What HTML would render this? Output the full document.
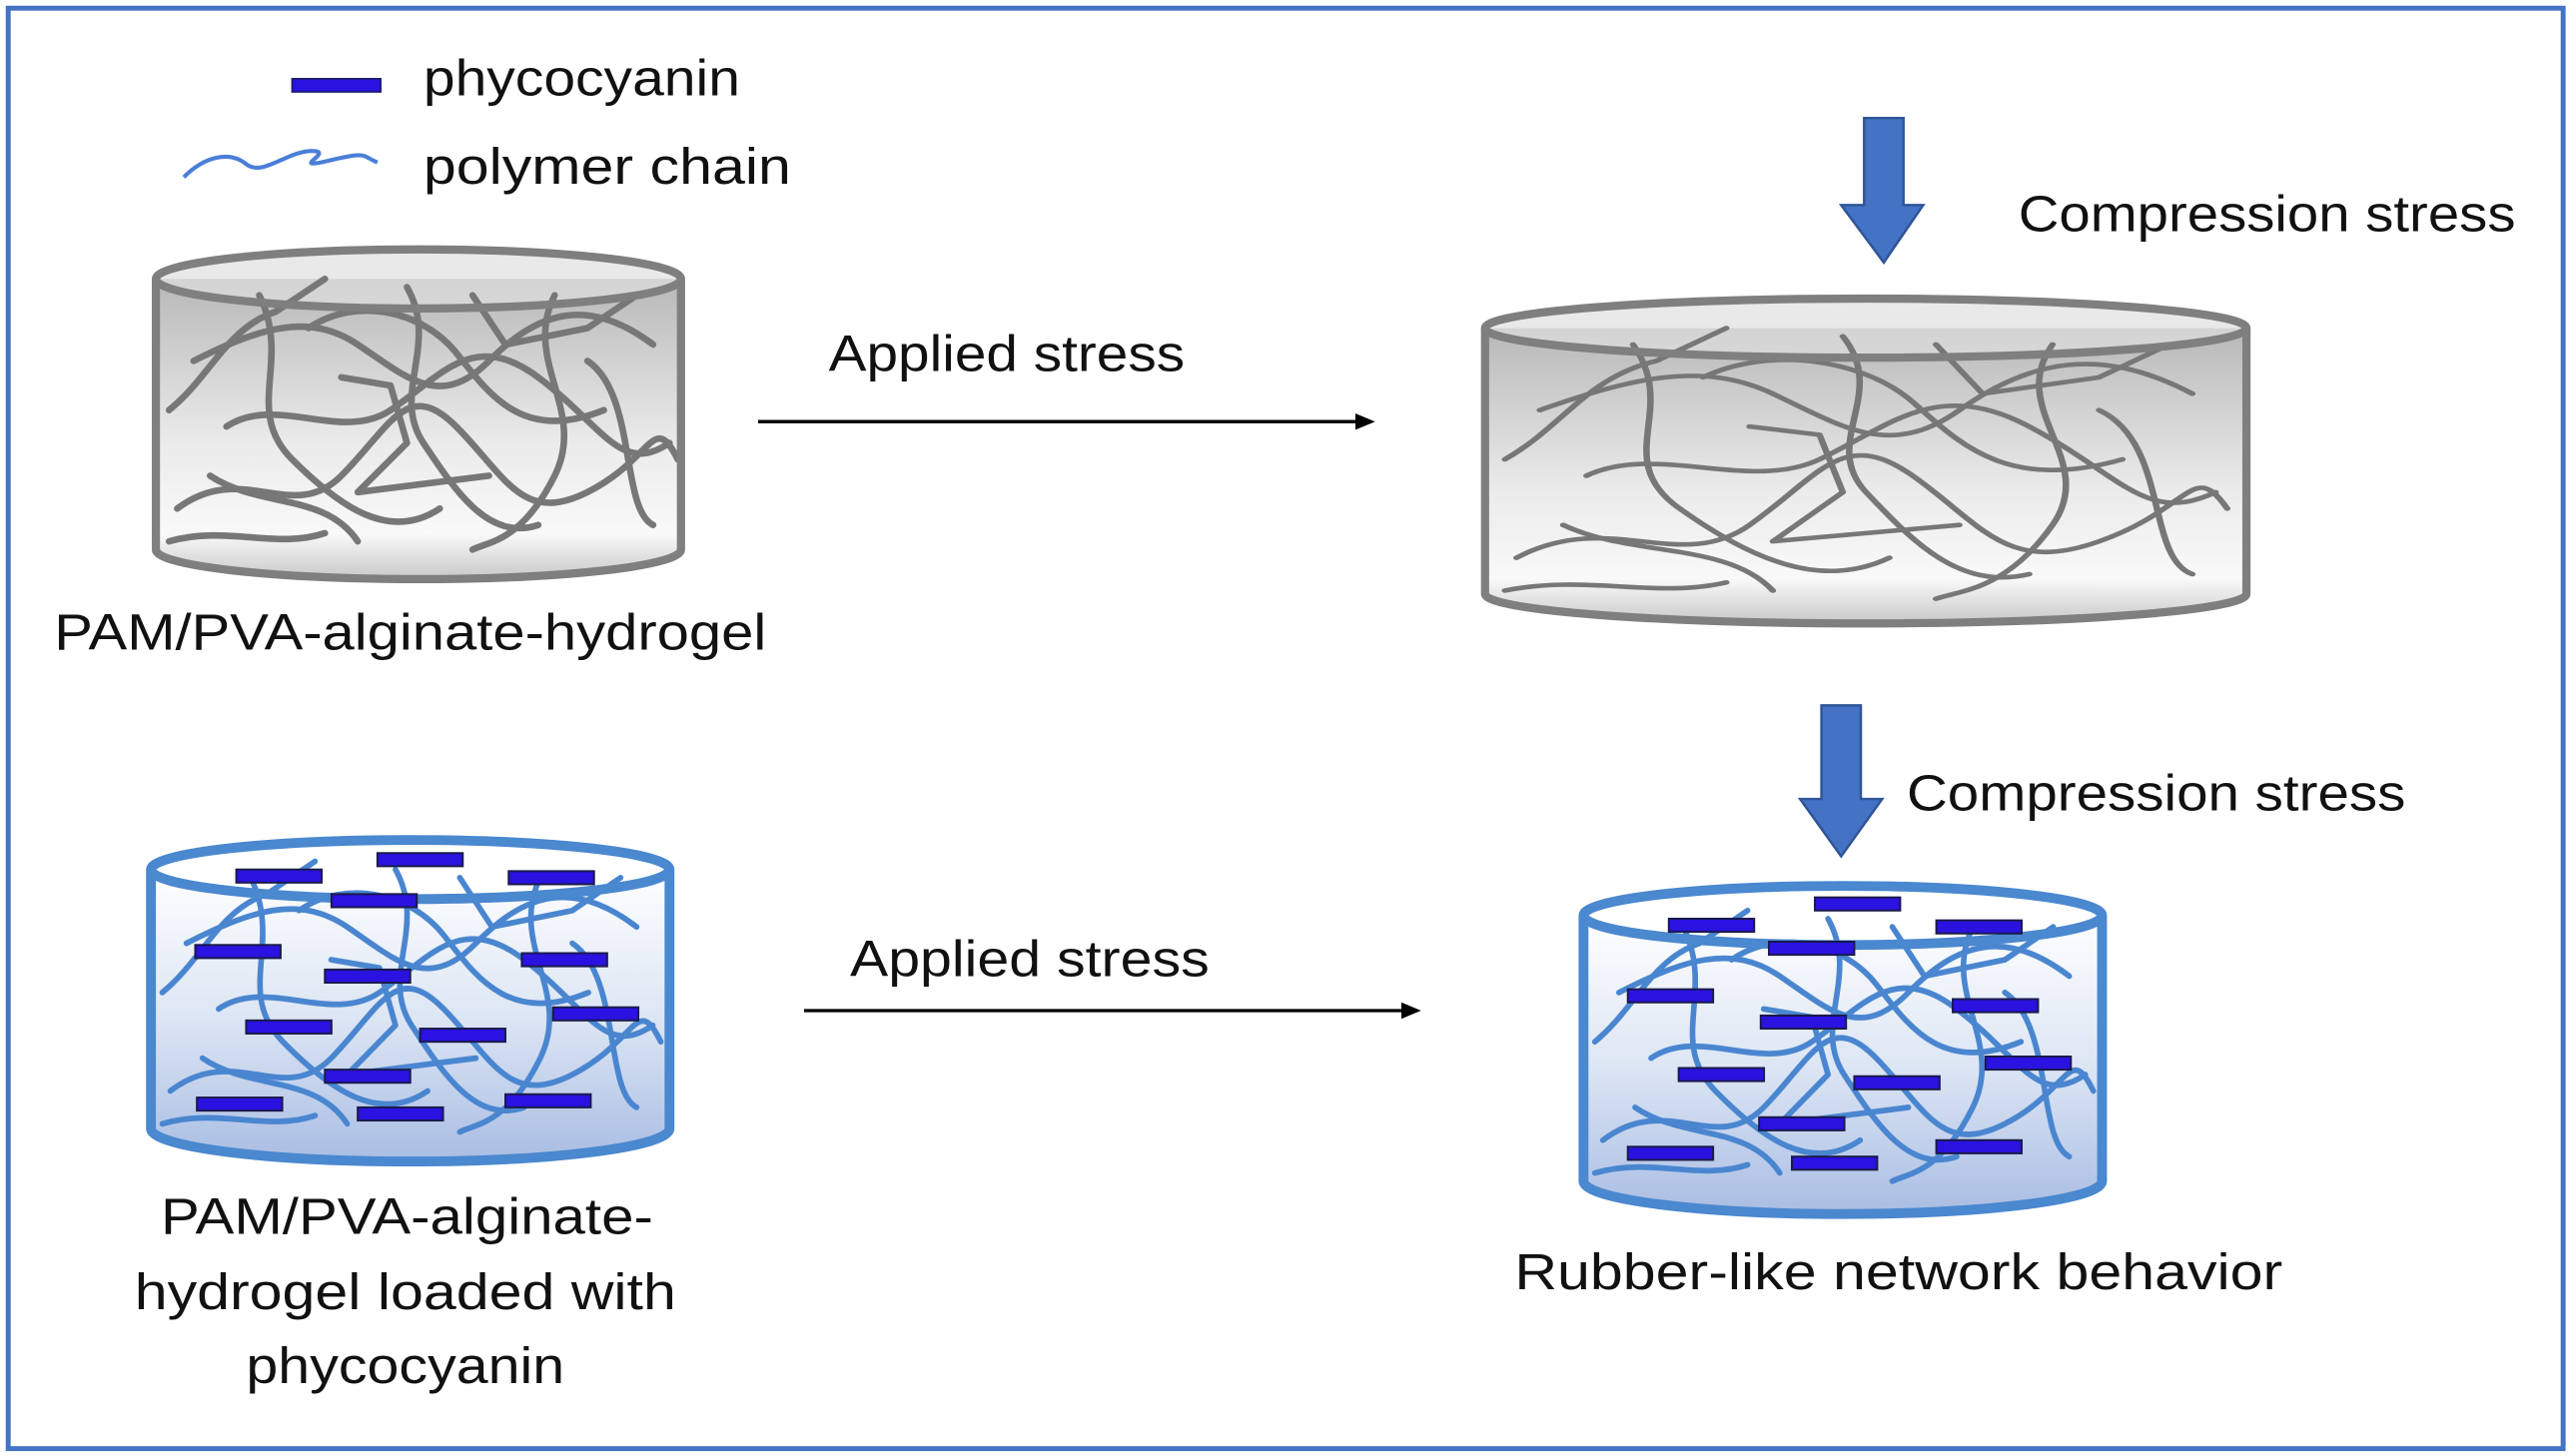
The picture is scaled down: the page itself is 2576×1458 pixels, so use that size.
<!DOCTYPE html>
<html><head><meta charset="utf-8">
<style>
html,body{margin:0;padding:0;background:#fff;}
svg{display:block;}
text{font-family:"Liberation Sans",sans-serif;fill:#111;}
</style></head>
<body>
<svg width="2576" height="1458" viewBox="0 0 1568 887.5" preserveAspectRatio="none" xmlns="http://www.w3.org/2000/svg">
<defs>
<linearGradient id="gg" x1="0" y1="0" x2="0" y2="1">
<stop offset="0" stop-color="#b8b8b8"/><stop offset="0.55" stop-color="#ebebeb"/><stop offset="0.85" stop-color="#f9f9f9"/><stop offset="1" stop-color="#c8c8c8"/>
</linearGradient>
<linearGradient id="bg" x1="0" y1="0" x2="0" y2="1">
<stop offset="0" stop-color="#ffffff"/><stop offset="0.5" stop-color="#dde6f4"/><stop offset="1" stop-color="#a9bde3"/>
</linearGradient>
<g id="chains" fill="none" stroke-linecap="round" stroke-linejoin="round">
<path d="M20,60 C60,40 90,30 120,50 S170,90 200,60 S260,20 300,50"/>
<path d="M40,100 C70,80 110,110 140,90 S190,40 230,70 S280,130 310,110"/>
<path d="M10,150 C50,120 80,160 110,130 S150,70 180,100 S220,160 260,140 S300,90 315,120"/>
<path d="M60,20 C80,60 50,90 80,120 S140,170 170,150"/>
<path d="M150,15 C170,50 140,80 160,110 S200,170 230,160"/>
<path d="M240,20 C220,60 260,90 240,130 S200,170 190,175"/>
<path d="M90,40 C120,20 160,30 180,55 S220,110 270,90"/>
<path d="M30,130 C60,150 100,140 120,170"/>
<path d="M110,70 L140,75 L150,110 L120,140 L200,130"/>
<path d="M260,60 C290,80 280,150 300,160"/>
<path d="M5,90 C30,70 40,40 70,30 L100,10"/>
<path d="M190,20 L210,50 L260,40 L290,20"/>
<path d="M5,170 C40,160 70,175 100,165"/>
</g>
</defs>

<rect x="5" y="5" width="1557" height="878" fill="none" stroke="#4472c4" stroke-width="3"/>

<!-- legend -->
<rect x="178" y="48" width="54" height="8" fill="#2a12e0" stroke="#1a1a66" stroke-width="1"/>
<text x="258" y="58" font-size="31" textLength="193" lengthAdjust="spacingAndGlyphs">phycocyanin</text>
<path d="M112,108 C125,95 140,92 150,100 S175,92 190,92 S175,104 200,98 S220,95 230,99" fill="none" stroke="#4a7fd8" stroke-width="2.5"/>
<text x="258" y="112" font-size="31" textLength="224" lengthAdjust="spacingAndGlyphs">polymer chain</text>

<!-- cylinder 1 gray -->
<path d="M95,170 L95,335 A160,18 0 0 0 415,335 L415,170 Z" fill="url(#gg)"/>
<ellipse cx="255" cy="170" rx="160" ry="18" fill="#e0e0e0" opacity="0.7"/>
<g stroke="#777" stroke-width="4" transform="translate(98,160)"><use href="#chains"/></g>
<path d="M95,170 L95,335 A160,18 0 0 0 415,335 L415,170" fill="none" stroke="#7f7f7f" stroke-width="5"/>
<ellipse cx="255" cy="170" rx="160" ry="18" fill="none" stroke="#7f7f7f" stroke-width="5"/>
<text x="33" y="396" font-size="31" textLength="434" lengthAdjust="spacingAndGlyphs">PAM/PVA-alginate-hydrogel</text>

<!-- arrow 1 -->
<line x1="462" y1="257" x2="828" y2="257" stroke="#000" stroke-width="2"/>
<path d="M838,257 L826,252 L826,262 Z" fill="#000"/>
<text x="505" y="226" font-size="31" textLength="217" lengthAdjust="spacingAndGlyphs">Applied stress</text>

<!-- cylinder 2 -->
<path d="M905,200 L905,362 A232,18 0 0 0 1369,362 L1369,200 Z" fill="url(#gg)"/>
<ellipse cx="1137" cy="200" rx="232" ry="18" fill="#e0e0e0" opacity="0.7"/>
<g stroke="#777" stroke-width="4" transform="translate(910,190) scale(1.42,1.0)"><use href="#chains" stroke-width="2.8"/></g>
<path d="M905,200 L905,362 A232,18 0 0 0 1369,362 L1369,200" fill="none" stroke="#7f7f7f" stroke-width="5"/>
<ellipse cx="1137" cy="200" rx="232" ry="18" fill="none" stroke="#7f7f7f" stroke-width="5"/>

<!-- down arrows -->
<path d="M1136,72 L1160,72 L1160,125 L1172,125 L1148,160 L1122,125 L1136,125 Z" fill="#4472c4" stroke="#2f5597" stroke-width="1.5"/>
<text x="1230" y="141" font-size="31" textLength="303" lengthAdjust="spacingAndGlyphs">Compression stress</text>
<path d="M1110,430 L1134,430 L1134,487 L1147,487 L1122,522 L1097,487 L1110,487 Z" fill="#4472c4" stroke="#2f5597" stroke-width="1.5"/>
<text x="1162" y="494" font-size="31" textLength="304" lengthAdjust="spacingAndGlyphs">Compression stress</text>

<!-- cylinder 3 blue -->
<path d="M92,530 L92,688 A158,20 0 0 0 408,688 L408,530 Z" fill="url(#bg)"/>
<ellipse cx="250" cy="530" rx="158" ry="18" fill="#fff"/>
<g stroke="#4a86d0" stroke-width="3.5" transform="translate(94,515) scale(0.98,1.0)"><use href="#chains"/></g>
<path d="M92,530 L92,688 A158,20 0 0 0 408,688 L408,530" fill="none" stroke="#4a88cf" stroke-width="6"/>
<ellipse cx="250" cy="530" rx="158" ry="18" fill="none" stroke="#4a88cf" stroke-width="6"/>
<g fill="#2a12e0" stroke="#1a1a4a" stroke-width="1.2">
<rect x="230" y="520" width="52" height="8"/>
<rect x="144" y="530" width="52" height="8"/>
<rect x="310" y="531" width="52" height="8"/>
<rect x="202" y="545" width="52" height="8"/>
<rect x="119" y="576" width="52" height="8"/>
<rect x="318" y="581" width="52" height="8"/>
<rect x="198" y="591" width="52" height="8"/>
<rect x="337" y="614" width="52" height="8"/>
<rect x="150" y="622" width="52" height="8"/>
<rect x="256" y="627" width="52" height="8"/>
<rect x="198" y="652" width="52" height="8"/>
<rect x="120" y="669" width="52" height="8"/>
<rect x="308" y="667" width="52" height="8"/>
<rect x="218" y="675" width="52" height="8"/>
</g>
<text x="98" y="752" font-size="31" textLength="300" lengthAdjust="spacingAndGlyphs">PAM/PVA-alginate-</text>
<text x="82" y="798" font-size="31" textLength="330" lengthAdjust="spacingAndGlyphs">hydrogel loaded with</text>
<text x="150" y="843" font-size="31" textLength="194" lengthAdjust="spacingAndGlyphs">phycocyanin</text>

<!-- arrow 3 -->
<line x1="490" y1="616" x2="856" y2="616" stroke="#000" stroke-width="2"/>
<path d="M866,616 L854,611 L854,621 Z" fill="#000"/>
<text x="518" y="595" font-size="31" textLength="219" lengthAdjust="spacingAndGlyphs">Applied stress</text>

<!-- cylinder 4 -->
<path d="M965,558 L965,720 A158,20 0 0 0 1281,720 L1281,558 Z" fill="url(#bg)"/>
<ellipse cx="1123" cy="558" rx="158" ry="18" fill="#fff"/>
<g stroke="#4a86d0" stroke-width="3.5" transform="translate(967,545) scale(0.98,1.0)"><use href="#chains"/></g>
<path d="M965,558 L965,720 A158,20 0 0 0 1281,720 L1281,558" fill="none" stroke="#4a88cf" stroke-width="6"/>
<ellipse cx="1123" cy="558" rx="158" ry="18" fill="none" stroke="#4a88cf" stroke-width="6"/>
<g fill="#2a12e0" stroke="#1a1a4a" stroke-width="1.2">
<rect x="1106" y="547" width="52" height="8"/>
<rect x="1017" y="560" width="52" height="8"/>
<rect x="1180" y="561" width="52" height="8"/>
<rect x="1078" y="574" width="52" height="8"/>
<rect x="992" y="603" width="52" height="8"/>
<rect x="1190" y="609" width="52" height="8"/>
<rect x="1073" y="619" width="52" height="8"/>
<rect x="1210" y="644" width="52" height="8"/>
<rect x="1023" y="651" width="52" height="8"/>
<rect x="1130" y="656" width="52" height="8"/>
<rect x="1072" y="681" width="52" height="8"/>
<rect x="1180" y="695" width="52" height="8"/>
<rect x="992" y="699" width="52" height="8"/>
<rect x="1092" y="705" width="52" height="8"/>
</g>
<text x="923" y="786" font-size="31" textLength="468" lengthAdjust="spacingAndGlyphs">Rubber-like network behavior</text>
</svg>
</body></html>
